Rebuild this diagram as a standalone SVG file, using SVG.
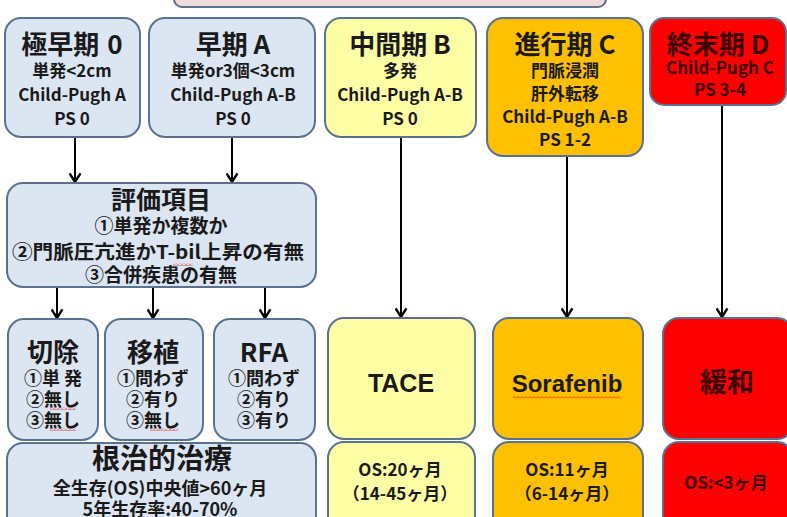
<svg xmlns="http://www.w3.org/2000/svg" width="787" height="517" viewBox="0 0 787 517">
<style>
.bx{stroke:#5a7190;stroke-width:2}
.blue{fill:#dce6f2}
.yel{fill:#ffffa6}
.org{fill:#ffc000}
.red{fill:#ff0000}
text{font-family:"Noto Sans CJK JP","Noto Sans",sans-serif;font-weight:bold;fill:#1a1a1a;text-anchor:middle}
.t{font-size:26px}
.s{font-size:17px}
.m{font-size:18px}
.e{font-size:19px}
.lat{font-family:"Liberation Sans",Arial,sans-serif;font-weight:bold;font-size:25px}
.dk{fill:#3a0000}
.con line{stroke:#000;stroke-width:2}
</style>
<defs>
<marker id="ah" viewBox="0 0 12 12" markerUnits="userSpaceOnUse" markerWidth="13" markerHeight="13" refX="11" refY="6" orient="auto">
<path d="M3 1 L11 6 L3 11" fill="none" stroke="#000" stroke-width="2.2"/>
</marker>
<pattern id="sq" width="4" height="3" patternUnits="userSpaceOnUse">
<path d="M0 2.5 L2 0.5 L4 2.5" fill="none" stroke="#e03030" stroke-width="0.9"/>
</pattern>
</defs>
<rect width="787" height="517" fill="#fff"/>
<g id="top"><rect class="bx" x="174" y="-20" width="432" height="27" rx="8" fill="#f2dcdb"/></g>

<g class="con">
<line x1="75" y1="137" x2="75" y2="182" marker-end="url(#ah)"/>
<line x1="232" y1="137" x2="232" y2="182" marker-end="url(#ah)"/>
<line x1="57" y1="287" x2="57" y2="318" marker-end="url(#ah)"/>
<line x1="153" y1="287" x2="153" y2="318" marker-end="url(#ah)"/>
<line x1="265" y1="287" x2="265" y2="318" marker-end="url(#ah)"/>
<line x1="401" y1="137" x2="401" y2="317" marker-end="url(#ah)"/>
<line x1="567" y1="156" x2="567" y2="317" marker-end="url(#ah)"/>
<line x1="722" y1="105" x2="722" y2="317" marker-end="url(#ah)"/>
</g>

<g id="stage0">
<rect class="bx blue" x="5" y="18" width="135" height="119" rx="16"/>
<text class="t" x="72" y="54">極早期<tspan dx="8">0</tspan></text>
<text class="s" x="72" y="77">単発&lt;2cm</text>
<text class="s" x="72" y="101">Child-Pugh A</text>
<text class="s" x="72" y="125">PS 0</text>
</g>
<g id="stageA">
<rect class="bx blue" x="149" y="18" width="166" height="119" rx="16"/>
<text class="t" x="233" y="54">早期 A</text>
<text class="s" x="233" y="77">単発or3個&lt;3cm</text>
<text class="s" x="233" y="101">Child-Pugh A-B</text>
<text class="s" x="233" y="125">PS 0</text>
</g>
<g id="stageB">
<rect class="bx yel" x="325" y="18" width="151" height="119" rx="16"/>
<text class="t" x="400" y="54">中間期 B</text>
<text class="s" x="400" y="77">多発</text>
<text class="s" x="400" y="101">Child-Pugh A-B</text>
<text class="s" x="400" y="125">PS 0</text>
</g>
<g id="stageC">
<rect class="bx org" x="487" y="18" width="156" height="138" rx="16"/>
<text class="t" x="565" y="54">進行期 C</text>
<text class="s" x="565" y="77">門脈浸潤</text>
<text class="s" x="565" y="100">肝外転移</text>
<text class="s" x="565" y="123">Child-Pugh A-B</text>
<text class="s" x="565" y="146">PS 1-2</text>
</g>
<g id="stageD">
<rect class="bx red" x="650" y="18" width="136" height="87" rx="14"/>
<text class="t dk" x="718" y="54">終末期 D</text>
<text class="s dk" x="720" y="74">Child-Pugh C</text>
<text class="s dk" x="720" y="96">PS 3-4</text>
</g>

<g id="eval">
<rect class="bx blue" x="7" y="183" width="309" height="104" rx="16"/>
<text x="161" y="209" style="font-size:25px">評価項目</text>
<text class="e" x="161" y="233">①単発か複数か</text>
<text class="e" x="158" y="259" textLength="292" lengthAdjust="spacingAndGlyphs">②門脈圧亢進かT-bil上昇の有無</text>
<text class="e" x="161" y="282">③合併疾患の有無</text>
<rect x="173" y="263" width="20" height="3" fill="url(#sq)"/>
</g>

<g id="resect">
<rect class="bx blue" x="8" y="319" width="90" height="121" rx="16"/>
<text x="53" y="362" style="font-size:26px">切除</text>
<text class="m" x="53" y="385">①単 発</text>
<text class="m" x="53" y="406">②無し</text>
<text class="m" x="53" y="427">③無し</text>
<rect x="50" y="407" width="26" height="3" fill="url(#sq)"/>
<rect x="50" y="428" width="26" height="3" fill="url(#sq)"/>
</g>
<g id="transplant">
<rect class="bx blue" x="105" y="319" width="98" height="121" rx="16"/>
<text x="153" y="362" style="font-size:26px">移植</text>
<text class="m" x="153" y="385">①問わず</text>
<text class="m" x="153" y="406">②有り</text>
<text class="m" x="153" y="427">③無し</text>
<rect x="150" y="428" width="28" height="3" fill="url(#sq)"/>
</g>
<g id="rfa">
<rect class="bx blue" x="214" y="319" width="101" height="121" rx="16"/>
<text x="264" y="362" style="font-size:26px">RFA</text>
<text class="m" x="264" y="385">①問わず</text>
<text class="m" x="264" y="406">②有り</text>
<text class="m" x="264" y="427">③有り</text>
</g>
<g id="curative">
<rect class="bx blue" x="7" y="443" width="309" height="90" rx="16"/>
<text x="162" y="469" style="font-size:28px">根治的治療</text>
<text class="m" x="160" y="495">全生存(OS)中央値&gt;60ヶ月</text>
<text class="m" x="160" y="516">5年生存率:40-70%</text>
</g>

<g id="tace">
<rect class="bx yel" x="328" y="318" width="147" height="121" rx="16"/>
<text class="lat" x="401" y="392">TACE</text>
</g>
<g id="taceos">
<rect class="bx yel" x="328" y="442" width="147" height="90" rx="16"/>
<text class="s" x="400" y="476">OS:20ヶ月</text>
<text class="s" x="400" y="500">（14-45ヶ月）</text>
</g>
<g id="sora">
<rect class="bx org" x="493" y="318" width="150" height="121" rx="16"/>
<text class="lat" x="567" y="392" style="font-size:24px">Sorafenib</text>
<rect x="513" y="396" width="108" height="3" fill="url(#sq)"/>
</g>
<g id="soraos">
<rect class="bx org" x="493" y="442" width="150" height="90" rx="16"/>
<text class="s" x="567" y="476">OS:11ヶ月</text>
<text class="s" x="567" y="500">（6-14ヶ月）</text>
</g>
<g id="palliative">
<rect class="bx red" x="663" y="318" width="130" height="121" rx="16"/>
<text x="727" y="392" style="font-size:27px" class="dk">緩和</text>
</g>
<g id="palos">
<rect class="bx red" x="663" y="442" width="130" height="90" rx="16"/>
<text class="s dk" x="726" y="489">OS:&lt;3ヶ月</text>
</g>
</svg>
